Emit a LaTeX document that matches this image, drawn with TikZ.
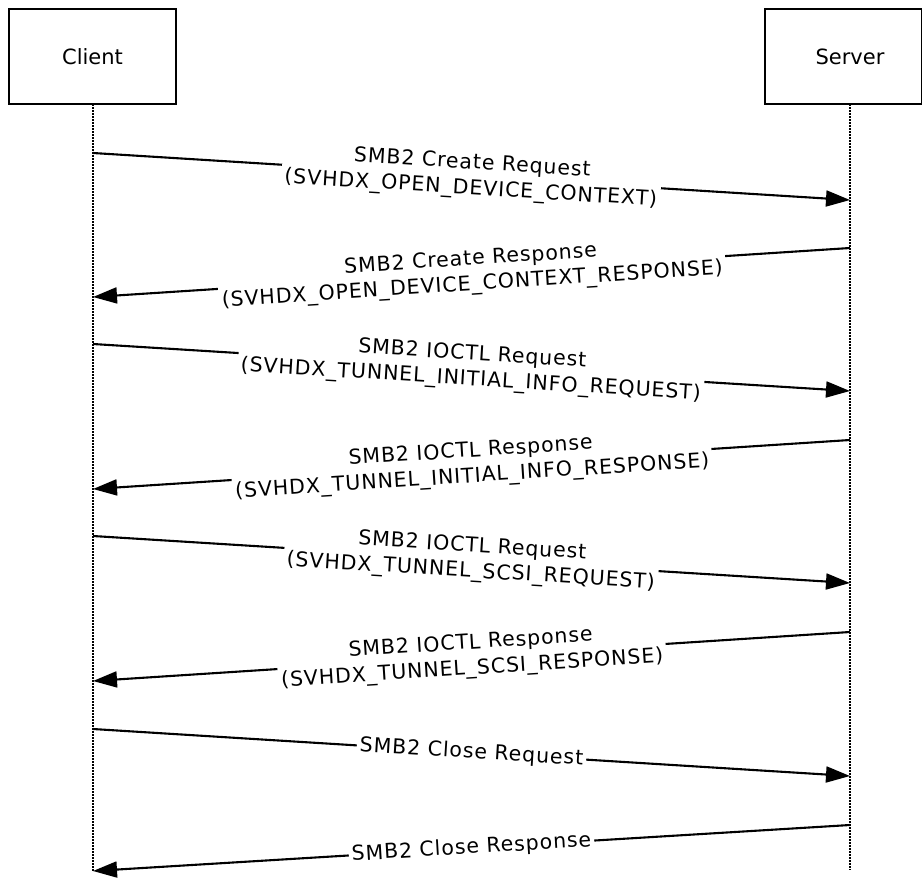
\documentclass[tikz,border=0pt]{standalone}
\usepackage{fontspec}
\setmainfont{DejaVu Sans}
\usetikzlibrary{arrows.meta}
\begin{document}
\begin{tikzpicture}[x=1pt,y=-1pt,
  boxline/.style={line width=1.8pt},
  lifeline/.style={line width=1.7pt, dash pattern=on 1.5pt off 1.5pt},
  msg/.style={line width=2.1pt, -{Triangle[length=24pt,width=16pt]}},
  lbl/.style={midway, sloped, fill=white, inner sep=3pt, align=center,
    font=\fontsize{20.5}{25.5}\selectfont\addfontfeature{LetterSpace=4.5}},
  actor/.style={inner sep=0pt, font=\fontsize{21}{25}\selectfont},
]
\useasboundingbox (0,0) rectangle (923,878);
% actor boxes
\draw[boxline] (9,9) rectangle (176,104);
\node[actor] (client) at (92.5,56.5) {Client};
\draw[boxline] (765,9) rectangle (921.5,104);
\node[actor] (server) at (850,56.5) {Server};
% lifelines
\coordinate (ctop) at (93,104);
\coordinate (cbot) at (93,871);
\coordinate (stop) at (850,104);
\coordinate (sbot) at (850,870);
\draw[lifeline] (ctop) -- (cbot);
\draw[lifeline] (stop) -- (sbot);
% message anchors
\coordinate (c1) at (93,153);  \coordinate (s1) at (850,200);
\coordinate (s2) at (850,248); \coordinate (c2) at (93,297);
\coordinate (c3) at (93,344);  \coordinate (s3) at (850,391);
\coordinate (s4) at (850,440); \coordinate (c4) at (93,489);
\coordinate (c5) at (93,536);  \coordinate (s5) at (850,583);
\coordinate (s6) at (850,632); \coordinate (c6) at (93,681);
\coordinate (c7) at (93,729);  \coordinate (s7) at (850,776);
\coordinate (s8) at (850,825); \coordinate (c8) at (93,871);
% messages
\draw[msg] (c1) -- node[lbl] (m1) {SMB2 Create Request\\(SVHDX\_OPEN\_DEVICE\_CONTEXT)} (s1);
\draw[msg] (s2) -- node[lbl] (m2) {SMB2 Create Response\\(SVHDX\_OPEN\_DEVICE\_CONTEXT\_RESPONSE)} (c2);
\draw[msg] (c3) -- node[lbl] (m3) {SMB2 IOCTL Request\\(SVHDX\_TUNNEL\_INITIAL\_INFO\_REQUEST)} (s3);
\draw[msg] (s4) -- node[lbl] (m4) {SMB2 IOCTL Response\\(SVHDX\_TUNNEL\_INITIAL\_INFO\_RESPONSE)} (c4);
\draw[msg] (c5) -- node[lbl] (m5) {SMB2 IOCTL Request\\(SVHDX\_TUNNEL\_SCSI\_REQUEST)} (s5);
\draw[msg] (s6) -- node[lbl] (m6) {SMB2 IOCTL Response\\(SVHDX\_TUNNEL\_SCSI\_RESPONSE)} (c6);
\draw[msg] (c7) -- node[lbl] (m7) {SMB2 Close Request} (s7);
\draw[msg] (s8) -- node[lbl] (m8) {SMB2 Close Response} (c8);
\end{tikzpicture}
\end{document}
